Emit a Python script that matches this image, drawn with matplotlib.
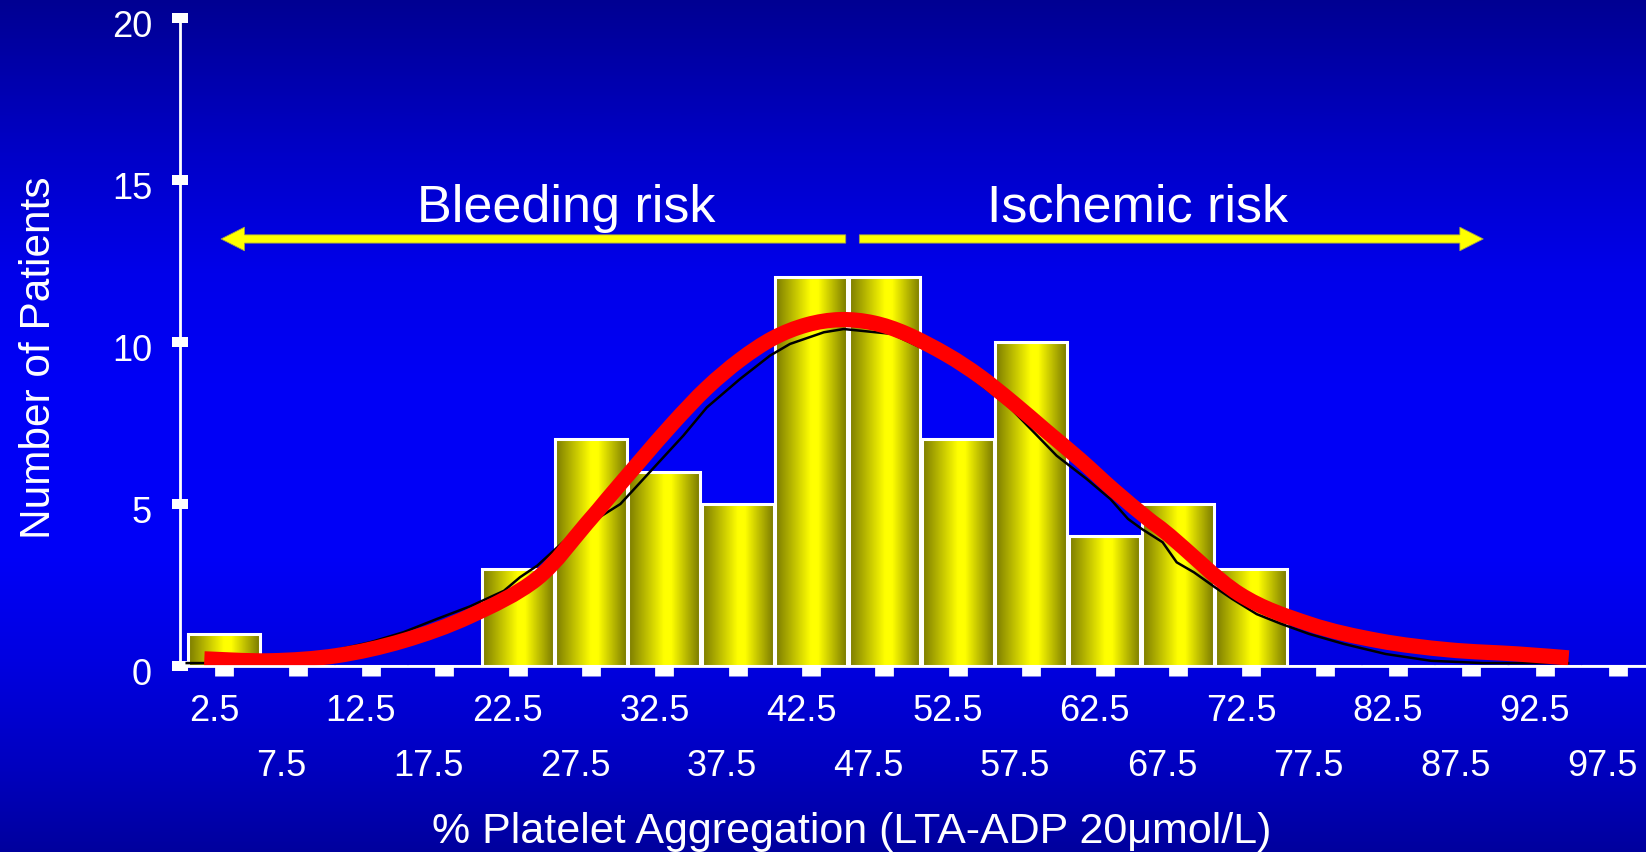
import matplotlib
matplotlib.use("Agg")

import numpy as np
import matplotlib.pyplot as plt
from matplotlib.colors import LinearSegmentedColormap
from matplotlib.patches import FancyArrow, PathPatch
from matplotlib.path import Path
from matplotlib.transforms import ScaledTranslation

plt.rcParams["font.family"] = ["Liberation Sans", "DejaVu Sans"]

# histogram: 5-unit bins of % aggregation
bin_centers = [2.5, 7.5, 12.5, 17.5, 22.5, 27.5, 32.5, 37.5, 42.5, 47.5,
               52.5, 57.5, 62.5, 67.5, 72.5, 77.5, 82.5, 87.5, 92.5, 97.5]
patient_counts = [1, 0, 0, 0, 3, 7, 6, 5, 12, 12,
                  7, 10, 4, 5, 3, 0, 0, 0, 0, 0]
tick_labels = ["2.5", "7.5", "12.5", "17.5", "22.5", "27.5", "32.5", "37.5",
               "42.5", "47.5", "52.5", "57.5", "62.5", "67.5", "72.5",
               "77.5", "82.5", "87.5", "92.5", "97.5"]
y_ticks = [0, 5, 10, 15, 20]

# fitted curve (red)
fit_x = [1.14, 5.62, 10.16, 14.7, 19.25, 23.8, 27.2, 28.57, 30.84, 33.1,
         35.39, 37.66, 39.92, 42.2, 44.47, 46.74, 49.0, 51.74, 54.0, 56.28,
         58.56, 60.83, 63.1, 65.39, 66.95, 71.7, 76.44, 81.2, 85.94, 90.69,
         94.14]
fit_y = [0.22, 0.16, 0.32, 0.78, 1.54, 2.69, 4.4, 5.13, 6.33, 7.5,
         8.58, 9.45, 10.12, 10.53, 10.69, 10.59, 10.25, 9.61, 8.94, 8.12,
         7.24, 6.37, 5.44, 4.57, 4.02, 2.22, 1.30, 0.78, 0.50, 0.37,
         0.25]

# smoothed empirical curve (thin black)
emp_x = [-0.06, 1.12, 5.5, 10.16, 12.43, 14.7, 16.98, 19.25, 21.56, 22.66,
         23.84, 26.07, 29.5, 33.79, 35.39, 37.66, 39.7, 41.06, 43.37, 44.73,
         48.0, 52.0, 56.0, 59.24, 61.29, 62.91, 64.1, 65.04, 66.46, 67.42,
         68.6, 70.03, 71.2, 72.88, 74.55, 76.44, 78.82, 81.67, 84.76, 88.3,
         94.1]
emp_y = [0.09, 0.09, 0.2, 0.5, 0.73, 1.04, 1.45, 1.84, 2.32, 2.74,
         3.1, 4.02, 5.0, 7.11, 7.98, 8.86, 9.58, 9.94, 10.3, 10.4,
         10.25, 9.4, 8.0, 6.49, 5.77, 5.15, 4.54, 4.23, 3.82, 3.2,
         2.89, 2.43, 2.07, 1.6, 1.3, 0.99, 0.68, 0.37, 0.16, 0.09,
         0.09]


def smooth_path(xs, ys):
    """Catmull-Rom style bezier through the points (like a 'smoothed line')."""
    pts = np.column_stack([xs, ys])
    verts, codes = [pts[0]], [Path.MOVETO]
    for i in range(len(pts) - 1):
        p0 = pts[max(i - 1, 0)]
        p1, p2 = pts[i], pts[i + 1]
        p3 = pts[min(i + 2, len(pts) - 1)]
        verts += [p1 + (p2 - p0) / 6, p2 - (p3 - p1) / 6, p2]
        codes += [Path.CURVE4] * 3
    return Path(verts, codes)


W, H, DPI = 1646, 853, 100
fig = plt.figure(figsize=(W / DPI, H / DPI), dpi=DPI)

# vertical blue backdrop
bg = fig.add_axes([0, 0, 1, 1], zorder=-10)
bg_cmap = LinearSegmentedColormap.from_list("bg", [
    (0.0, "#000092"), (0.18, "#0000c8"), (0.32, "#0000ea"), (0.45, "#0000f6"),
    (0.65, "#0000f8"), (0.78, "#0000e0"), (0.9, "#0000c0"), (1.0, "#00009e")])
bg.imshow(np.linspace(0, 1, 512).reshape(-1, 1), aspect="auto", cmap=bg_cmap,
          extent=[0, 1, 0, 1], origin="upper")
bg.axis("off")

ax = fig.add_axes([180 / W, 1 - 667 / H, 1 - 180 / W, (667 - 19) / H])
ax.set_facecolor("none")

bars = ax.bar(bin_centers, patient_counts, width=4.9, facecolor="none",
              edgecolor="white", linewidth=2.2, zorder=3)
bar_cmap = LinearSegmentedColormap.from_list("gold", [
    (0.0, "#7a7a00"), (0.5, "#ffff00"), (0.6, "#ffff00"), (1.0, "#7a7a00")])
grad = np.linspace(0, 1, 256).reshape(1, -1)
for b in bars:
    h = b.get_height()
    if h <= 0:
        continue
    x0, w = b.get_x(), b.get_width()
    ax.imshow(grad, cmap=bar_cmap, aspect="auto", interpolation="bilinear",
              extent=[x0, x0 + w, 0, h], zorder=2)

ax.plot(emp_x, emp_y, color="black", lw=1.8, zorder=4)
ax.add_patch(PathPatch(smooth_path(fit_x, fit_y), fill=False,
                       edgecolor="#ff0000", linewidth=11, capstyle="butt",
                       joinstyle="round", zorder=5))

ax.set_xlim(-0.518, 99.41)
ax.set_ylim(0, 20)

# risk arrows
arrow_y = 13.18
for start, end in [(44.86, 2.28), (45.79, 88.32)]:
    ax.add_patch(FancyArrow(start, arrow_y, end - start, 0, width=0.256,
                            head_width=0.73, head_length=1.6,
                            length_includes_head=True, facecolor="#ffff00",
                            edgecolor="#9a9a50", linewidth=0.6, zorder=6))
ax.text(25.8, 13.74, "Bleeding risk", ha="center", va="baseline",
        fontsize=37.5, color="white", zorder=6)
ax.text(64.72, 13.74, "Ischemic risk", ha="center", va="baseline",
        fontsize=37.5, color="white", zorder=6)

for side in ("top", "right"):
    ax.spines[side].set_visible(False)
for side in ("left", "bottom"):
    ax.spines[side].set_color("white")
    ax.spines[side].set_linewidth(2)
    ax.spines[side].set_zorder(7)

ax.set_xticks(bin_centers)
ax.set_xticklabels(tick_labels)
ax.set_yticks(y_ticks)
ax.tick_params(axis="x", direction="out", length=7, width=13.5, color="white",
               labelcolor="white", labelsize=26, pad=12.7)
ax.tick_params(axis="y", direction="inout", length=11.5, width=7.2,
               color="white", labelcolor="white", labelsize=26, pad=14.4)

# staggered x labels, nudged left as in the slide
for i, t in enumerate(ax.xaxis.get_major_ticks()):
    if i % 2:
        t.set_pad(52.3)
    dx = -16 if i % 2 else -10
    t.label1.set_transform(t.label1.get_transform()
                           + ScaledTranslation(dx / DPI, 0, fig.dpi_scale_trans))
for t in ax.yaxis.get_major_ticks():
    t.label1.set_transform(t.label1.get_transform()
                           + ScaledTranslation(0, -5 / DPI, fig.dpi_scale_trans))

fig.text(50 / W, 1 - 358 / H, "Number of Patients", rotation=90,
         rotation_mode="anchor", ha="center", va="baseline", fontsize=30.5,
         color="white")
fig.text(852 / W, 1 - 843 / H, "% Platelet Aggregation (LTA-ADP 20\u03bcmol/L)",
         ha="center", va="baseline", fontsize=31, color="white")

fig.savefig("out.png", dpi=DPI)
